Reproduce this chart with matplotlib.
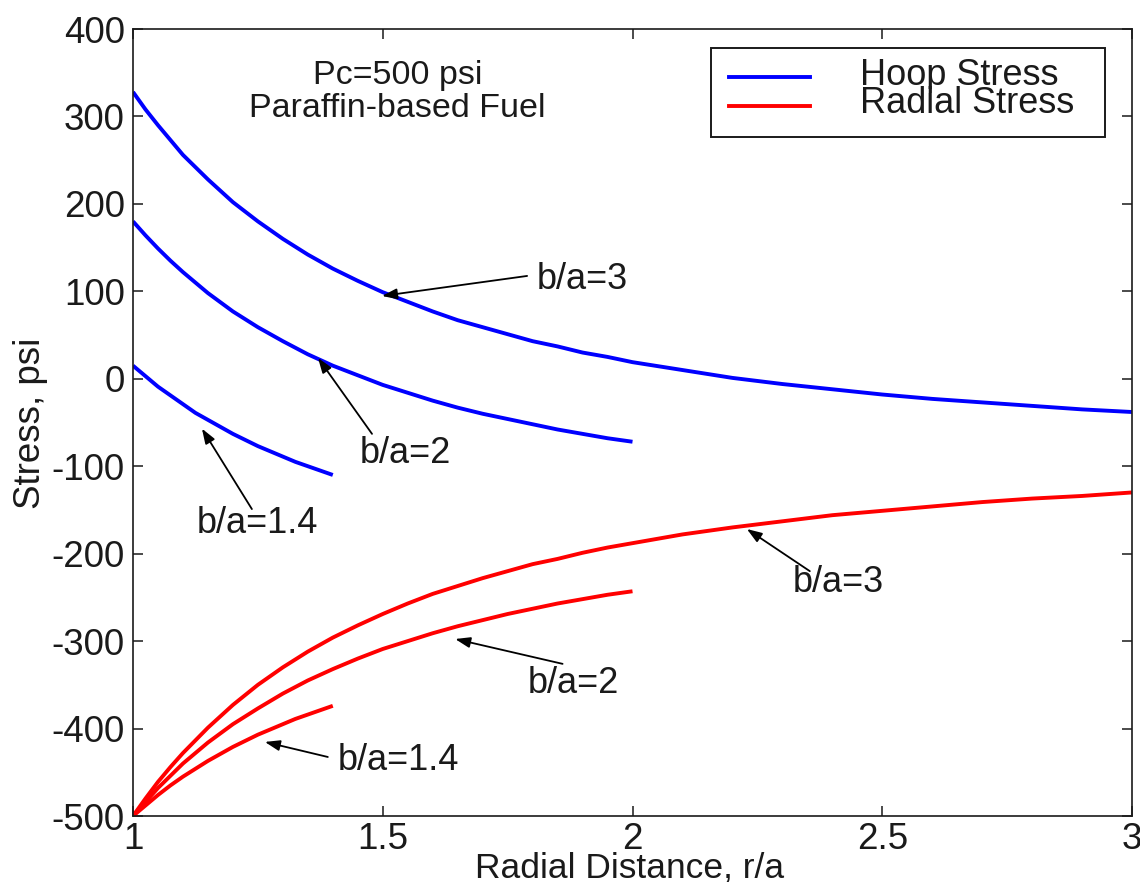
import matplotlib
matplotlib.use("Agg")
import matplotlib.pyplot as plt
from matplotlib.patches import Rectangle
from matplotlib.lines import Line2D

plt.rcParams['font.family'] = ['Liberation Sans', 'DejaVu Sans']
plt.rcParams['axes.unicode_minus'] = False

# ---- data ----
r_b3 = [1.0, 1.025, 1.05, 1.075, 1.1, 1.15, 1.2, 1.25, 1.3, 1.35, 1.4, 1.45, 1.5, 1.55, 1.6,
        1.65, 1.7, 1.75, 1.8, 1.85, 1.9, 1.95, 2.0, 2.1, 2.2, 2.3, 2.4, 2.5, 2.6, 2.7,
        2.8, 2.9, 3.0]
hoop_b3 = [328, 308, 290, 273, 256, 228, 202, 180, 160, 142, 126, 112, 99, 88, 77,
           67, 59, 51, 43, 37, 30, 25, 19, 10, 1, -6, -12, -18, -23, -27,
           -31, -35, -38]
radial_b3 = [-500, -480, -461, -444, -428, -399, -373, -350, -330, -312, -296, -282, -269, -257, -246,
             -237, -228, -220, -212, -206, -199, -193, -188, -178, -170, -163, -156, -151, -146, -141,
             -137, -134, -130]

r_b2 = [1.0, 1.025, 1.05, 1.075, 1.1, 1.15, 1.2, 1.25, 1.3, 1.35, 1.4, 1.45, 1.5, 1.55,
        1.6, 1.65, 1.7, 1.75, 1.8, 1.85, 1.9, 1.95, 2.0]
hoop_b2 = [180, 164, 149, 135, 122, 98, 77, 59, 43, 28, 15, 4, -7, -16,
           -25, -33, -40, -46, -52, -58, -63, -68, -72]
radial_b2 = [-500, -484, -468, -454, -440, -416, -395, -377, -360, -345, -332, -320, -309, -300,
             -291, -283, -276, -269, -263, -257, -252, -247, -243]

r_b14 = [1.0, 1.025, 1.05, 1.075, 1.1, 1.125, 1.15, 1.175, 1.2, 1.225, 1.25, 1.275,
         1.3, 1.325, 1.35, 1.375, 1.4]
hoop_b14 = [15, 3, -9, -19, -29, -39, -47, -55, -63, -70, -77, -83,
            -89, -95, -100, -105, -110]
radial_b14 = [-500, -488, -476, -465, -455, -446, -437, -429, -421, -414, -407, -401,
              -395, -389, -384, -379, -374]

legend_labels = ["Hoop Stress", "Radial Stress"]
x_ticks = [1, 1.5, 2, 2.5, 3]
x_ticklabels = ["1", "1.5", "2", "2.5", "3"]
y_ticks = [-500, -400, -300, -200, -100, 0, 100, 200, 300, 400]

# annotations: (label, text centre, arrow tail, arrow tip)
hoop_notes = [
    ("b/a=3", (1.899, 114), (1.789, 117.6), (1.4985, 94.7)),
    ("b/a=2", (1.5445, -85), (1.4785, -63), (1.3704, 23.8)),
    ("b/a=1.4", (1.250, -166), (1.238, -149), (1.138, -57)),
]
radial_notes = [
    ("b/a=3", (2.413, -233.5), (2.355, -220), (2.229, -171.8)),
    ("b/a=2", (1.881, -348), (1.86, -326), (1.645, -297.6)),
    ("b/a=1.4", (1.531, -437), (1.390, -432.5), (1.264, -415.3)),
]

BLUE = "#0000ff"
RED = "#ff0000"
INK = "#1a1a1a"

fig = plt.figure(figsize=(11.4, 8.82), dpi=100)
ax = fig.add_axes([133 / 1140, 1 - 816 / 882, 999 / 1140, 787 / 882])

lw = 2.8
for r, h in [(r_b3, hoop_b3), (r_b2, hoop_b2), (r_b14, hoop_b14)]:
    ax.plot(r, h, color=BLUE, lw=lw, solid_capstyle='butt')
for r, s in [(r_b3, radial_b3), (r_b2, radial_b2), (r_b14, radial_b14)]:
    ax.plot(r, s, color=RED, lw=lw, solid_capstyle='butt')

ax.set_xlim(1, 3)
ax.set_ylim(-500, 400)
ax.set_xticks(x_ticks)
ax.set_xticklabels(x_ticklabels)
ax.set_yticks(y_ticks)
ax.tick_params(direction='in', length=7, width=1.1, labelsize=26.5,
               top=True, right=True, colors=INK)
ax.tick_params(axis='x', pad=4)
ax.tick_params(axis='y', pad=6)
for sp in ax.spines.values():
    sp.set_linewidth(1.2)
    sp.set_color(INK)

note_fs = 26
for label, txt, tail, tip in hoop_notes + radial_notes:
    ax.text(txt[0], txt[1], label, ha='center', va='center', fontsize=note_fs, color=INK)
    ax.annotate('', xy=tip, xytext=tail,
                arrowprops=dict(arrowstyle='-|>,head_length=0.9,head_width=0.32',
                                color='black', lw=1.3, shrinkA=0, shrinkB=0))

ax.text(1.529, 346.5, "Pc=500 psi", ha='center', va='center', fontsize=24.5, color=INK)
ax.text(1.529, 309, "Paraffin-based Fuel", ha='center', va='center', fontsize=24.5, color=INK)

# legend box (manual, to reproduce the tight line spacing)
ax.add_patch(Rectangle((0.5786, 0.8628), 0.3944, 0.1131, transform=ax.transAxes,
                       facecolor='white', edgecolor=INK, lw=1.4, zorder=5))
for (yl, yb, c, lab) in [(0.939, 0.9289, BLUE, legend_labels[0]),
                          (0.902, 0.8933, RED, legend_labels[1])]:
    ax.add_line(Line2D([0.5966, 0.6777], [yl, yl], transform=ax.transAxes,
                       color=c, lw=2.8, zorder=6))
    ax.text(0.7277, yb, lab, transform=ax.transAxes, ha='left', va='baseline',
            fontsize=26, color=INK, zorder=6)

fig.text(31 / 1140, 1 - 423 / 882, "Stress, psi", rotation=90, ha='center', va='center',
         fontsize=26.5, color=INK)
fig.text(630 / 1140, 1 - 877 / 882, "Radial Distance, r/a", ha='center', va='baseline',
         fontsize=25.5, color=INK)

fig.savefig("out.png", dpi=100)
